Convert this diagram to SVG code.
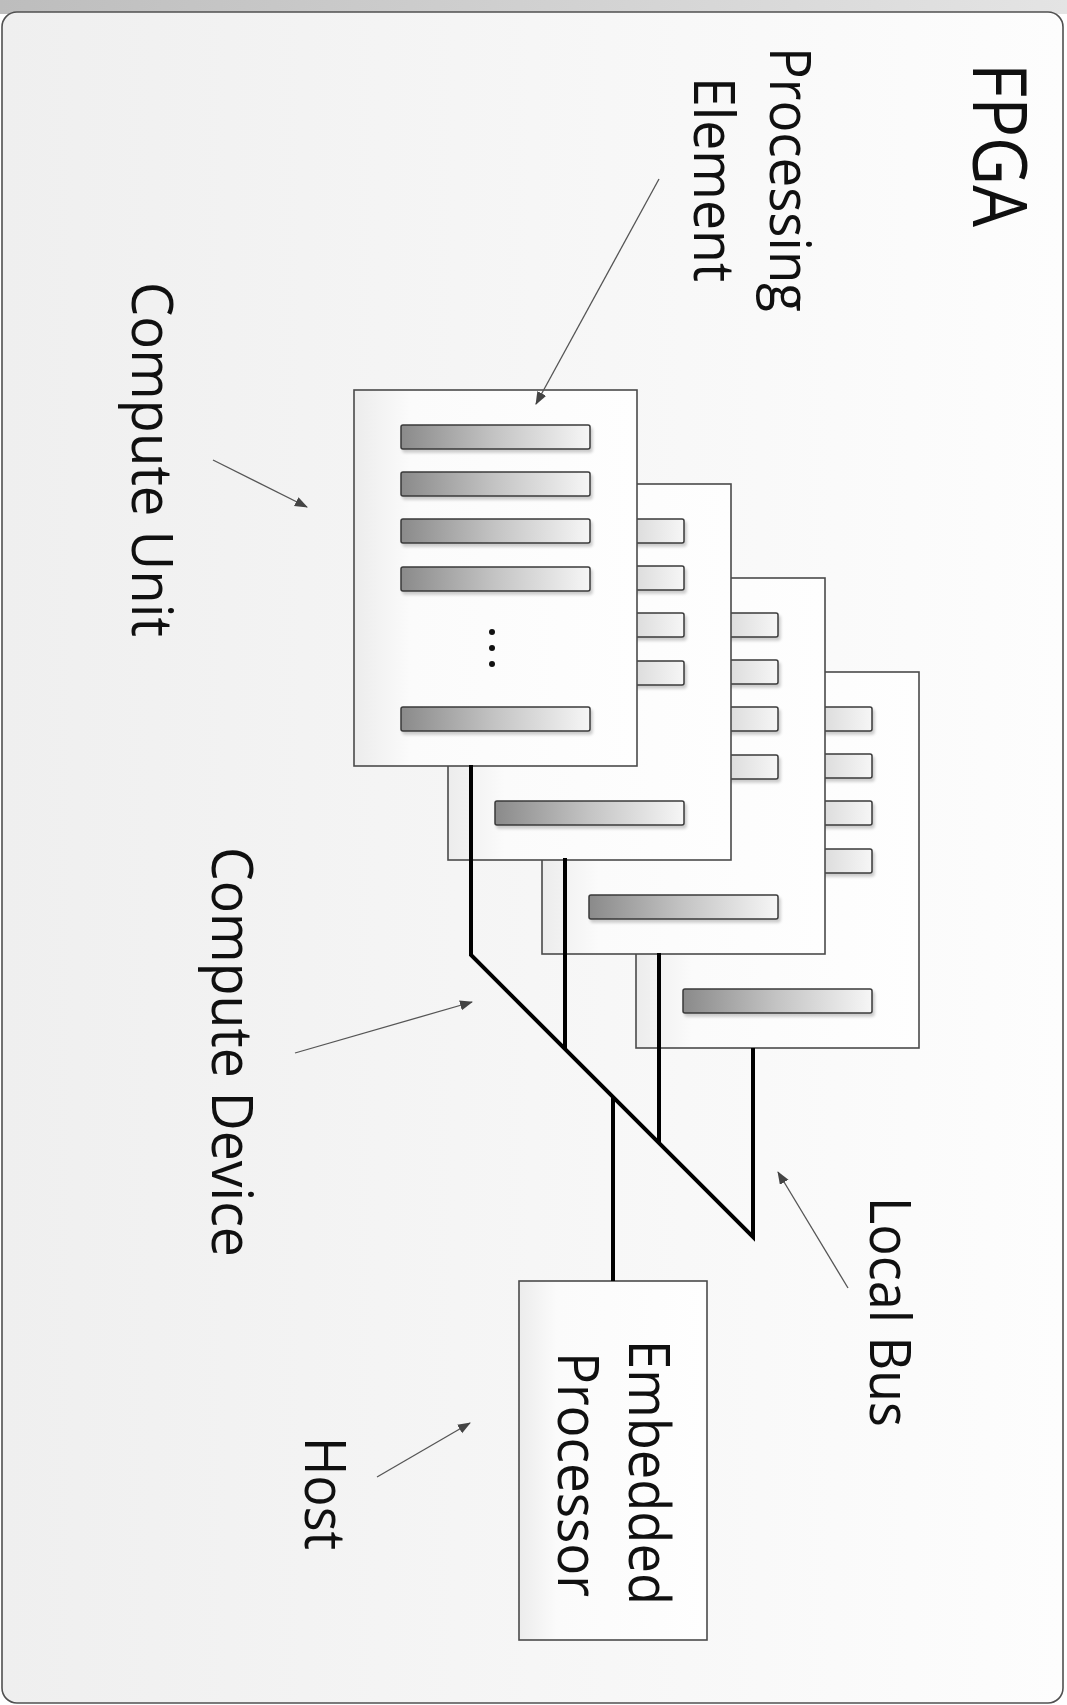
<svg xmlns="http://www.w3.org/2000/svg" xmlns:xlink="http://www.w3.org/1999/xlink" width="1067" height="1705" viewBox="0 0 1067 1705">
  <style>
    .lbl { font-family: "Open Sans", "Noto Sans", "DejaVu Sans", sans-serif; font-size: 56px; fill: #101010; }
    .title { font-size: 75px; }
    .frame { fill: url(#frameFill); stroke: #505050; stroke-width: 1.6; }
    .box { fill: url(#boxFill); stroke: #4a4a4a; stroke-width: 1.6; }
    .bar { fill: url(#barFill); stroke: #3a3a3a; stroke-width: 1.5; }
    .dot { fill: #111; }
    .bus { fill: none; stroke: #000; stroke-width: 4; stroke-linejoin: miter; }
    .ptr { fill: none; stroke: #555; stroke-width: 1.3; marker-end: url(#tip); }
  </style>
  <defs>
    <linearGradient id="bandFill" x1="0" y1="0" x2="1" y2="0">
      <stop offset="0" stop-color="#bdbdbd"/>
      <stop offset="1" stop-color="#e4e4e4"/>
    </linearGradient>
    <linearGradient id="frameFill" x1="0" y1="0" x2="1" y2="0">
      <stop offset="0" stop-color="#efefef"/>
      <stop offset="1" stop-color="#fdfdfd"/>
    </linearGradient>
    <linearGradient id="boxFill" x1="0" y1="0" x2="1" y2="0">
      <stop offset="0" stop-color="#ececec"/>
      <stop offset="0.2" stop-color="#fbfbfb"/>
      <stop offset="1" stop-color="#fefefe"/>
    </linearGradient>
    <linearGradient id="barFill" x1="0" y1="0" x2="1" y2="0">
      <stop offset="0" stop-color="#8a8a8a"/>
      <stop offset="0.5" stop-color="#c4c4c4"/>
      <stop offset="1" stop-color="#f6f6f6"/>
    </linearGradient>
    <filter id="soft" x="-10%" y="-30%" width="130%" height="180%">
      <feGaussianBlur in="SourceAlpha" stdDeviation="1.6"/>
      <feOffset dx="2" dy="3" result="b"/>
      <feComponentTransfer><feFuncA type="linear" slope="0.2"/></feComponentTransfer>
      <feMerge><feMergeNode/><feMergeNode in="SourceGraphic"/></feMerge>
    </filter>
    <marker id="tip" markerUnits="userSpaceOnUse" markerWidth="14" markerHeight="12" refX="12" refY="5" orient="auto">
      <path d="M0,0 L13,5 L0,10 Z" fill="#444"/>
    </marker>
    <!-- one compute unit: frame, four processing elements, ellipsis, last element -->
    <g id="cuBody">
      <rect class="box" x="0" y="0" width="283" height="376"/>
      <g filter="url(#soft)">
        <rect class="bar" x="47" y="35" width="189" height="24" rx="2"/>
        <rect class="bar" x="47" y="82" width="189" height="24" rx="2"/>
        <rect class="bar" x="47" y="129" width="189" height="24" rx="2"/>
        <rect class="bar" x="47" y="177" width="189" height="24" rx="2"/>
        <rect class="bar" x="47" y="317" width="189" height="24" rx="2"/>
      </g>
      <circle class="dot" cx="138" cy="242" r="3"/>
      <circle class="dot" cx="138" cy="258" r="3"/>
      <circle class="dot" cx="138" cy="274" r="3"/>
    </g>
  </defs>

  <!-- page band and FPGA frame -->
  <rect x="0" y="0" width="1067" height="14" fill="url(#bandFill)"/>
  <rect class="frame" x="2" y="12" width="1061" height="1691" rx="15"/>

  <!-- compute units, back to front -->
  <g id="cu4" transform="translate(636,672)"><use xlink:href="#cuBody"/></g>
  <g id="cu3" transform="translate(542,578)"><use xlink:href="#cuBody"/></g>
  <g id="cu2" transform="translate(448,484)"><use xlink:href="#cuBody"/></g>
  <g id="cu1" transform="translate(354,390)"><use xlink:href="#cuBody"/></g>

  <!-- embedded processor (host) -->
  <g id="embedded-processor">
    <rect class="box" x="519" y="1281" width="188" height="359"/>
    <text class="lbl" transform="translate(629,1340) rotate(90)" textLength="265" lengthAdjust="spacingAndGlyphs">Embedded</text>
    <text class="lbl" transform="translate(558,1352) rotate(90)" textLength="245" lengthAdjust="spacingAndGlyphs">Processor</text>
  </g>

  <!-- local bus and label pointers -->
  <g id="connectors">
    <path class="bus" d="M471,765 L471,955 L753,1237 L753,1048"/>
    <path class="bus" d="M565,858 L565,1049"/>
    <path class="bus" d="M659,953 L659,1143"/>
    <path class="bus" d="M613,1097 L613,1281"/>
    <line class="ptr" x1="659" y1="179" x2="536" y2="404"/>
    <line class="ptr" x1="213" y1="460" x2="307" y2="507"/>
    <line class="ptr" x1="295" y1="1053" x2="472" y2="1002"/>
    <line class="ptr" x1="848" y1="1288" x2="778" y2="1172"/>
    <line class="ptr" x1="377" y1="1477" x2="470" y2="1423"/>
  </g>

  <!-- labels -->
  <g id="labels">
    <text id="lbl-fpga" class="lbl title" transform="translate(973,63) rotate(90)" textLength="164" lengthAdjust="spacingAndGlyphs">FPGA</text>
    <g id="lbl-pe">
      <text class="lbl" transform="translate(770,47) rotate(90)" textLength="265" lengthAdjust="spacingAndGlyphs">Processing</text>
      <text class="lbl" transform="translate(694,77) rotate(90)" textLength="205" lengthAdjust="spacingAndGlyphs">Element</text>
    </g>
    <text id="lbl-cu" class="lbl" transform="translate(132,282) rotate(90)" textLength="355" lengthAdjust="spacingAndGlyphs">Compute Unit</text>
    <text id="lbl-cd" class="lbl" transform="translate(212,847) rotate(90)" textLength="410" lengthAdjust="spacingAndGlyphs">Compute Device</text>
    <text id="lbl-bus" class="lbl" transform="translate(870,1197) rotate(90)" textLength="230" lengthAdjust="spacingAndGlyphs">Local Bus</text>
    <text id="lbl-host" class="lbl" transform="translate(305,1437) rotate(90)" textLength="113" lengthAdjust="spacingAndGlyphs">Host</text>
  </g>
</svg>
